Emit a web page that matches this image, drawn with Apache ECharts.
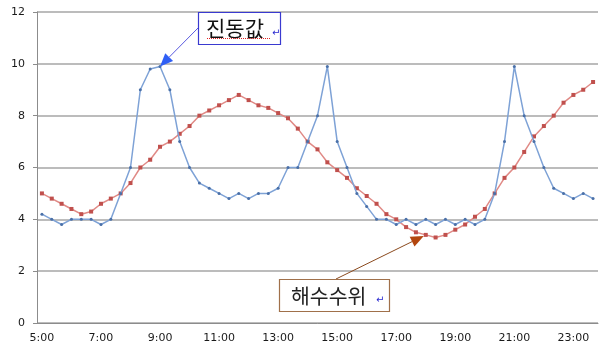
<!DOCTYPE html>
<html>
<head>
<meta charset="utf-8">
<script src="https://cdn.jsdelivr.net/npm/echarts@6/dist/echarts.min.js"></script>
<style>
  html, body { margin: 0; padding: 0; background: #fff; }
  #chart { width: 603px; height: 351px; }
</style>
</head>
<body>
<div id="chart"></div>
<script>
// Time of day, one sample every 20 minutes
const times = [
  '5:00','5:20','5:40','6:00','6:20','6:40','7:00','7:20','7:40',
  '8:00','8:20','8:40','9:00','9:20','9:40','10:00','10:20','10:40',
  '11:00','11:20','11:40','12:00','12:20','12:40','13:00','13:20','13:40',
  '14:00','14:20','14:40','15:00','15:20','15:40','16:00','16:20','16:40',
  '17:00','17:20','17:40','18:00','18:20','18:40','19:00','19:20','19:40',
  '20:00','20:20','20:40','21:00','21:20','21:40','22:00','22:20','22:40',
  '23:00','23:20','23:40'
];

// Vibration level (진동값)
const vibration = [
  4.2, 4.0, 3.8, 4.0, 4.0, 4.0, 3.8, 4.0,
  5.0, 6.0, 9.0, 9.8, 9.9, 9.0, 7.0, 6.0,
  5.4, 5.2, 5.0, 4.8, 5.0, 4.8, 5.0, 5.0, 5.2,
  6.0, 6.0, 7.0, 8.0, 9.9, 7.0, 6.0,
  5.0, 4.5, 4.0, 4.0, 3.8, 4.0, 3.8, 4.0, 3.8, 4.0, 3.8, 4.0, 3.8, 4.0,
  5.0, 7.0, 9.9, 8.0, 7.0, 6.0, 5.2, 5.0, 4.8, 5.0, 4.8
];

// Sea water level (해수수위)
const seaLevel = [
  5.0, 4.8, 4.6, 4.4, 4.2, 4.3, 4.6, 4.8, 5.0, 5.4,
  6.0, 6.3, 6.8, 7.0, 7.3, 7.6, 8.0, 8.2, 8.4, 8.6,
  8.8, 8.6, 8.4, 8.3, 8.1, 7.9, 7.5, 7.0, 6.7, 6.2,
  5.9, 5.6, 5.2, 4.9, 4.6, 4.2, 4.0, 3.7, 3.5, 3.4,
  3.3, 3.4, 3.6, 3.8, 4.1, 4.4, 5.0, 5.6, 6.0, 6.6,
  7.2, 7.6, 8.0, 8.5, 8.8, 9.0, 9.3
];

const yTicks = { min: 0, max: 12, interval: 2 };

// Callout text and the sample each one points at
const vibLabel = '진동값';
const vibPointIndex = 12;
const seaLabel = '해수수위';
const seaPointIndex = 39;

const chart = echarts.init(document.getElementById('chart'), null, { renderer: 'canvas' });

const labelFont = 'Verdana, "DejaVu Sans", sans-serif';

chart.setOption({
  animation: false,
  backgroundColor: '#ffffff',
  grid: { left: 37, right: 5, top: 12, bottom: 28 },
  xAxis: {
    type: 'category',
    data: times,
    boundaryGap: true,
    axisLine: { lineStyle: { color: '#8c8c8c', width: 1 } },
    axisTick: { interval: 5, length: 4, lineStyle: { color: '#8c8c8c' } },
    axisLabel: {
      interval: 5, margin: 10,
      color: '#1a1a1a', fontSize: 11, fontFamily: labelFont
    },
    splitLine: { show: false }
  },
  yAxis: {
    type: 'value',
    min: yTicks.min, max: yTicks.max, interval: yTicks.interval,
    axisLine: { show: true, lineStyle: { color: '#8c8c8c', width: 1 } },
    axisTick: { show: true, length: 4, lineStyle: { color: '#8c8c8c' } },
    axisLabel: { margin: 12, color: '#1a1a1a', fontSize: 11, fontFamily: labelFont },
    splitLine: { lineStyle: { color: '#a6a6a6', width: 1.5 } }
  },
  series: [
    {
      name: vibLabel,
      type: 'line',
      data: vibration,
      symbol: 'circle',
      symbolSize: 3,
      itemStyle: { color: '#4a70a8' },
      lineStyle: { color: '#7ea2d6', width: 1.5 },
      z: 3
    },
    {
      name: seaLabel,
      type: 'line',
      data: seaLevel,
      symbol: 'rect',
      symbolSize: 4,
      itemStyle: { color: '#c0504d' },
      lineStyle: { color: '#e08a86', width: 1.5 },
      z: 2
    }
  ]
});

// Arrow helper: shaft plus filled triangular head ending at the tip
function arrow(from, tip, lineColor, headColor, headLen, headWidth) {
  const dx = tip[0] - from[0], dy = tip[1] - from[1];
  const len = Math.sqrt(dx * dx + dy * dy);
  const ux = dx / len, uy = dy / len;
  const nx = -uy, ny = ux;
  const bx = tip[0] - ux * headLen, by = tip[1] - uy * headLen;
  return [
    {
      type: 'line', z: 20,
      shape: { x1: from[0], y1: from[1], x2: bx, y2: by },
      style: { stroke: lineColor, lineWidth: 1 }
    },
    {
      type: 'polygon', z: 21,
      shape: { points: [
        [tip[0], tip[1]],
        [bx + nx * headWidth / 2, by + ny * headWidth / 2],
        [bx - nx * headWidth / 2, by - ny * headWidth / 2]
      ] },
      style: { fill: headColor }
    }
  ];
}

const calloutFont = '"Noto Sans CJK KR", sans-serif';
const vibTip = chart.convertToPixel({ seriesIndex: 0 }, [vibPointIndex, vibration[vibPointIndex]]);
const seaTip = chart.convertToPixel({ seriesIndex: 1 }, [seaPointIndex, seaLevel[seaPointIndex]]);

const graphics = [];
// 진동값 callout box
graphics.push({
  type: 'rect', z: 22,
  shape: { x: 198.5, y: 12.5, width: 82, height: 32 },
  style: { fill: '#ffffff', stroke: '#3a3ad0', lineWidth: 1.2 }
});
graphics.push({
  type: 'text', z: 23, x: 206, y: 28,
  style: { text: vibLabel, font: '21px ' + calloutFont, fill: '#111', textVerticalAlign: 'middle' }
});
// dotted red underline under the callout word
graphics.push({
  type: 'line', z: 24,
  shape: { x1: 207, y1: 38.5, x2: 270, y2: 38.5 },
  style: { stroke: '#e02020', lineWidth: 1, lineDash: [1, 1] }
});
graphics.push({
  type: 'text', z: 23, x: 272, y: 33,
  style: { text: '↵', font: '10px "DejaVu Sans"', fill: '#2a2ad0', textVerticalAlign: 'middle' }
});
graphics.push(...arrow([198, 28], [vibTip[0], vibTip[1]], '#5a5ae0', '#2f5ff5', 13, 11));

// 해수수위 callout box
graphics.push({
  type: 'rect', z: 22,
  shape: { x: 279.5, y: 279.5, width: 110, height: 32 },
  style: { fill: '#ffffff', stroke: '#a0704a', lineWidth: 1.2 }
});
graphics.push({
  type: 'text', z: 23, x: 291, y: 296,
  style: { text: seaLabel, font: '20.5px ' + calloutFont, fill: '#222', textVerticalAlign: 'middle' }
});
graphics.push({
  type: 'text', z: 23, x: 376, y: 300,
  style: { text: '↵', font: '10px "DejaVu Sans"', fill: '#2a2ad0', textVerticalAlign: 'middle' }
});
graphics.push(...arrow([336, 279], [seaTip[0] - 2, seaTip[1] + 1], '#8b4a1e', '#b3460e', 13, 11));

chart.setOption({ graphic: graphics });
</script>
</body>
</html>
